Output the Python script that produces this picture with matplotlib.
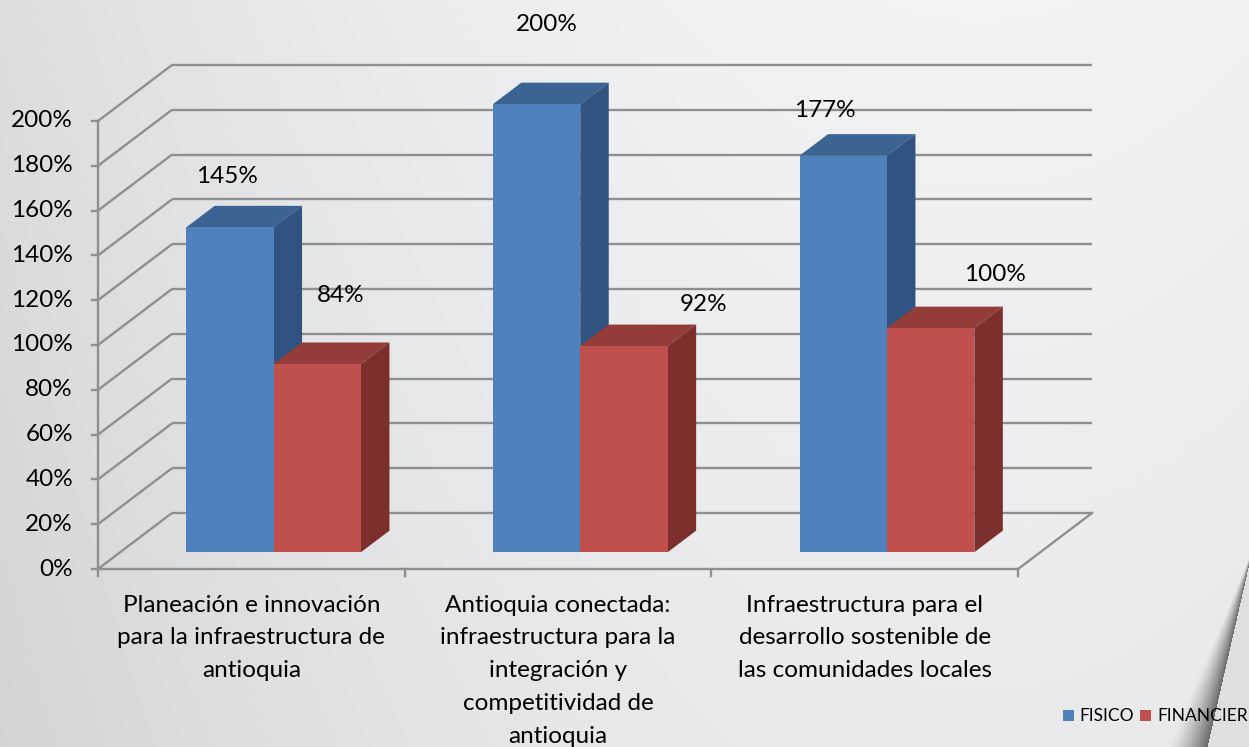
import numpy as np
import matplotlib
matplotlib.use("Agg")
import matplotlib.pyplot as plt
from matplotlib.patches import Polygon

# ---------------- data ----------------
categories = [
    "Planeación e innovación\npara la infraestructura de\nantioquia",
    "Antioquia conectada:\ninfraestructura para la\nintegración y\ncompetitividad de\nantioquia",
    "Infraestructura para el\ndesarrollo sostenible de\nlas comunidades locales",
]
series_names = ["FISICO", "FINANCIER"]
fisico = [145, 200, 177]
financiero = [84, 92, 100]
y_ticks = [0, 20, 40, 60, 80, 100, 120, 140, 160, 180, 200]

# label offsets (pixels: dx, dy above the bar's front top)
label_off_fis = [(-3, 51), (10, 80), (-18, 45)]
label_off_fin = [(23, 69), (80, 42), (64, 54)]

# ---------------- geometry ----------------
W, H = 1249, 747
PXC = 306.7      # px per category
PXP = 2.24       # px per percent
X0, Y0 = 98, 569
DX = 74 / PXC    # depth shift in category units
DY = 56 / PXP    # depth shift in percent units
D0, D1 = 0.30, 0.685
BW = 0.285
FS = 17.5

blue = dict(front="#4f81bd", top="#3c6493", side="#305381")
red = dict(front="#c0504d", top="#943c3a", side="#7c2f2d")
grid_c = "#8f8f8f"

fig = plt.figure(figsize=(W / 100, H / 100), dpi=100)
ax = fig.add_axes([0, 0, 1, 1])
xmin, xmax = -X0 / PXC, (W - X0) / PXC
ymin, ymax = (Y0 - H) / PXP, Y0 / PXP
ax.set_xlim(xmin, xmax)
ax.set_ylim(ymin, ymax)
ax.axis("off")

# ---------------- background ----------------
yy, xx = np.mgrid[0:H, 0:W].astype(float)
v = 0.952 - 0.085 * ((xx - 980) / 980) ** 2 - 0.035 * (yy / H)
# page-curl shadow
t = np.clip((yy - 550) / (747 - 550), 0, None)
edge_x = 1252 - 45 * t
left_x = 1252 - 85 * t
band = (xx >= left_x) & (xx <= edge_x) & (yy >= 550)
frac = np.where(band, (xx - left_x) / np.maximum(edge_x - left_x, 1e-6), 0)
v = v - band * 0.5 * frac ** 1.4
right = (xx > edge_x) & (yy >= 550)
v = np.where(right, 0.875, v)
img = np.dstack([v, v + 0.002, v + 0.008])
img = np.clip(img, 0, 1)
ax.imshow(img, extent=(xmin, xmax, ymin, ymax), aspect="auto", zorder=0,
          interpolation="bilinear")

# ---------------- walls & grid ----------------
lw = 1.7
for yv in y_ticks:
    ax.plot([0, DX], [yv, yv + DY], color=grid_c, lw=lw, zorder=1, solid_capstyle="butt")
    ax.plot([DX, 3 + DX], [yv + DY, yv + DY], color=grid_c, lw=lw, zorder=1, solid_capstyle="butt")
    ax.plot([-6 / PXC, 0], [yv, yv], color=grid_c, lw=lw, zorder=1)
    ax.text(-25 / PXC, yv, f"{yv}%", ha="right", va="center", fontsize=FS,
            family="Lato", color="#000000", zorder=5)
ax.plot([0, 0], [0, 200], color=grid_c, lw=lw, zorder=1)
ax.plot([0, 3], [0, 0], color=grid_c, lw=lw, zorder=1)
ax.plot([3, 3 + DX], [0, DY], color=grid_c, lw=lw, zorder=1)
for i in range(4):
    ax.plot([i, i], [0, -7 / PXP], color=grid_c, lw=lw, zorder=1)

# ---------------- bars ----------------
def draw_bar(x0, val, col, z):
    x1 = x0 + BW
    fx0, fx1 = x0 + D0 * DX, x1 + D0 * DX
    fy0, fy1 = D0 * DY, val + D0 * DY
    bx0, bx1 = x0 + D1 * DX, x1 + D1 * DX
    by0, by1 = D1 * DY, val + D1 * DY
    ax.add_patch(Polygon([(fx0, fy1), (fx1, fy1), (bx1, by1), (bx0, by1)],
                         closed=True, facecolor=col["top"], edgecolor="none", zorder=z))
    ax.add_patch(Polygon([(fx1, fy0), (bx1, by0), (bx1, by1), (fx1, fy1)],
                         closed=True, facecolor=col["side"], edgecolor="none", zorder=z))
    ax.add_patch(Polygon([(fx0, fy0), (fx1, fy0), (fx1, fy1), (fx0, fy1)],
                         closed=True, facecolor=col["front"], edgecolor="none", zorder=z))
    return (fx0 + fx1) / 2, fy1

for i in range(3):
    cx_f, top_f = draw_bar(i + 0.5 - BW, fisico[i], blue, 2 + i * 2)
    cx_r, top_r = draw_bar(i + 0.5, financiero[i], red, 3 + i * 2)
    dx, dy = label_off_fis[i]
    ax.text(cx_f + dx / PXC, top_f + dy / PXP, f"{fisico[i]}%", ha="center", va="center",
            fontsize=FS, family="Lato", zorder=10)
    dx, dy = label_off_fin[i]
    ax.text(cx_r + dx / PXC, top_r + dy / PXP, f"{financiero[i]}%", ha="center", va="center",
            fontsize=FS, family="Lato", zorder=10)

# ---------------- category labels ----------------
for i, c in enumerate(categories):
    ax.text(i + 0.5, -11.5, c, ha="center", va="top", fontsize=FS, family="Lato",
            linespacing=1.69, zorder=5)

# ---------------- legend ----------------
def px2d(px, py):
    return (px - X0) / PXC, (Y0 - py) / PXP

for (sx, tx, name, col) in [(1063, 1079, series_names[0], blue["front"]),
                             (1140, 1157, series_names[1], red["front"])]:
    a, b = px2d(sx, 721)
    w_ = 11 / PXC
    h_ = 11 / PXP
    ax.add_patch(Polygon([(a, b), (a + w_, b), (a + w_, b + h_), (a, b + h_)],
                         closed=True, facecolor=col, edgecolor="none", zorder=10))
    tx_, ty_ = px2d(tx, 716)
    ax.text(tx_, ty_, name, ha="left", va="center", fontsize=12.5, family="Lato", zorder=10)

fig.savefig("out.png", dpi=100)
